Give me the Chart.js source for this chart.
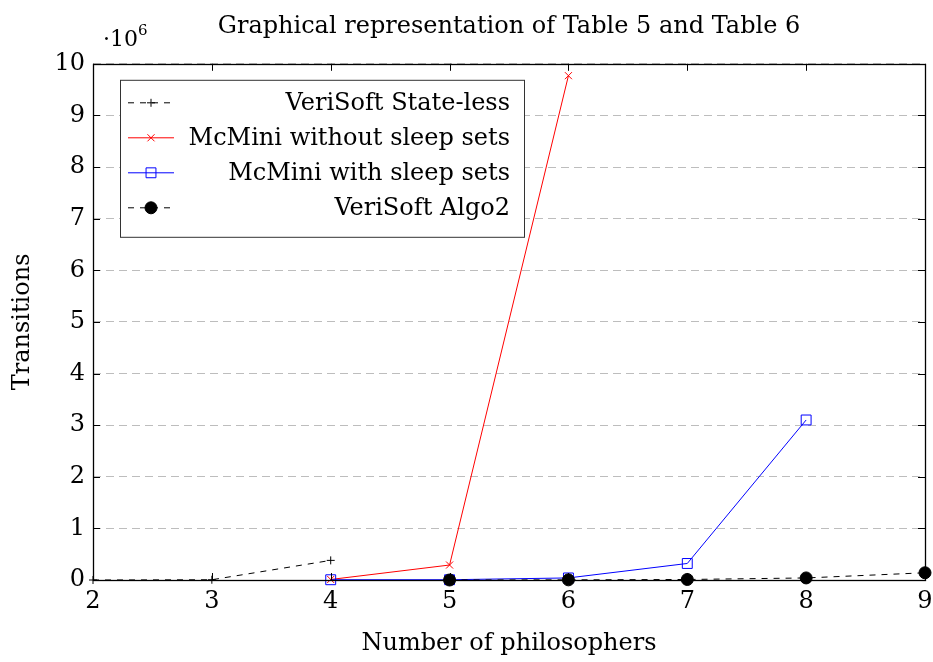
<!DOCTYPE html>
<html>
<head>
  <title>Table 5 and Table 6</title>
  <script src="https://cdn.jsdelivr.net/npm/chart.js"></script>
  <style>
    html, body { margin: 0; padding: 0; background: #fff; }
  </style>
</head>
<body>
  <canvas id="myChart" width="933" height="662"></canvas>
  <script>
// values in millions of transitions (axis shows x10^6)
var stateLessX = [2, 3, 4];
var stateLessY = [0.0, 0.005, 0.38];

var noSleepX = [4, 5, 6];
var noSleepY = [0.01, 0.29, 9.77];

var sleepX = [4, 5, 6, 7, 8];
var sleepY = [0.005, 0.005, 0.04, 0.32, 3.1];

var algo2X = [5, 6, 7, 8, 9];
var algo2Y = [0.0, 0.003, 0.01, 0.04, 0.14];

var seriesNames = ['VeriSoft State-less', 'McMini without sleep sets', 'McMini with sleep sets', 'VeriSoft Algo2'];
var xTicks = [2, 3, 4, 5, 6, 7, 8, 9];
var yTicks = [0, 1, 2, 3, 4, 5, 6, 7, 8, 9, 10];

var FONT = "'DejaVu Serif', serif";
var FS = 24;

function pts(xs, ys) {
  return xs.map(function (x, i) { return { x: x, y: ys[i] }; });
}

// frame + inward ticks like pgfplots
var framePlugin = {
  id: 'frame',
  afterDatasetsDraw: function (chart) {
    var ctx = chart.ctx, a = chart.chartArea;
    var sx = chart.scales.x, sy = chart.scales.y;
    ctx.save();
    ctx.strokeStyle = '#000';
    ctx.lineWidth = 1;
    ctx.beginPath();
    xTicks.forEach(function (v) {
      var px = Math.round(sx.getPixelForValue(v)) + 0.5;
      ctx.moveTo(px, a.bottom); ctx.lineTo(px, a.bottom - 7);
      ctx.moveTo(px, a.top); ctx.lineTo(px, a.top + 7);
    });
    yTicks.forEach(function (v) {
      var py = Math.round(sy.getPixelForValue(v)) + 0.5;
      ctx.moveTo(a.left, py); ctx.lineTo(a.left + 7, py);
      ctx.moveTo(a.right, py); ctx.lineTo(a.right - 7, py);
    });
    ctx.stroke();
    ctx.lineWidth = 1.3;
    ctx.strokeRect(Math.round(a.left) + 0.5, Math.round(a.top) + 0.5, Math.round(a.right - a.left), Math.round(a.bottom - a.top));
    // scale factor label
    ctx.fillStyle = '#000';
    ctx.font = '22px ' + FONT;
    ctx.textBaseline = 'alphabetic';
    ctx.textAlign = 'left';
    ctx.fillText('\u00b710', a.left + 10, 46);
    ctx.font = '15px ' + FONT;
    ctx.fillText('6', a.left + 45, 35);
    ctx.restore();
  }
};

// legend box inside the plot, text right aligned
var legendPlugin = {
  id: 'boxLegend',
  afterDraw: function (chart) {
    var ctx = chart.ctx, a = chart.chartArea;
    var bx = a.left + 27, by = a.top + 16, bw = 404, bh = 157;
    ctx.save();
    ctx.fillStyle = '#fff';
    ctx.fillRect(bx, by, bw, bh);
    ctx.strokeStyle = '#333';
    ctx.lineWidth = 1;
    ctx.strokeRect(bx + 0.5, by + 0.5, bw, bh);
    chart.data.datasets.forEach(function (ds, row) {
      var cy = by + 23 + row * 35;
      ctx.save();
      ctx.strokeStyle = ds.borderColor;
      ctx.lineWidth = 1;
      ctx.setLineDash(ds.borderDash || []);
      ctx.beginPath();
      ctx.moveTo(bx + 8, cy); ctx.lineTo(bx + 54, cy);
      ctx.stroke();
      ctx.restore();
      ctx.save();
      ctx.strokeStyle = ds.borderColor;
      ctx.fillStyle = ds.backgroundColor;
      ctx.lineWidth = 1;
      Chart.helpers.drawPoint(ctx, {
        pointStyle: ds.pointStyle,
        radius: ds.pointRadius,
        borderWidth: 1,
        rotation: 0
      }, bx + 31, cy);
      ctx.restore();
      ctx.fillStyle = '#000';
      ctx.font = FS + 'px ' + FONT;
      ctx.textAlign = 'right';
      ctx.textBaseline = 'middle';
      ctx.fillText(ds.label, bx + bw - 14, cy + 1);
    });
    ctx.restore();
  }
};

var ctx = document.getElementById('myChart').getContext('2d');

var myChart = new Chart(ctx, {
  type: 'line',
  data: {
    datasets: [{
      label: seriesNames[0],
      data: pts(stateLessX, stateLessY),
      borderColor: '#000',
      backgroundColor: '#000',
      borderWidth: 1,
      borderDash: [6, 6],
      pointStyle: 'cross',
      pointRadius: 4,
      pointBorderWidth: 1,
      order: 3
    }, {
      label: seriesNames[1],
      data: pts(noSleepX, noSleepY),
      borderColor: '#ff0000',
      backgroundColor: '#ff0000',
      borderWidth: 1,
      pointStyle: 'crossRot',
      pointRadius: 5,
      pointBorderWidth: 1,
      order: 2
    }, {
      label: seriesNames[2],
      data: pts(sleepX, sleepY),
      borderColor: '#0000ff',
      backgroundColor: 'rgba(255,255,255,0)',
      borderWidth: 1,
      pointStyle: 'rect',
      pointRadius: 7,
      pointBorderWidth: 1,
      order: 1
    }, {
      label: seriesNames[3],
      data: pts(algo2X, algo2Y),
      borderColor: '#000',
      backgroundColor: '#000',
      borderWidth: 1,
      borderDash: [6, 6],
      pointStyle: 'circle',
      pointRadius: 6,
      pointBorderWidth: 1,
      order: 0
    }]
  },
  options: {
    responsive: false,
    animation: false,
    clip: false,
    layout: { padding: { left: 0, right: 7, top: 0, bottom: 4 } },
    plugins: {
      legend: { display: false },
      tooltip: { enabled: false },
      title: {
        display: true,
        fullSize: false,
        text: 'Graphical representation of Table 5 and Table 6',
        color: '#000',
        font: { family: FONT, size: FS, weight: 'normal' },
        padding: { top: 12, bottom: 23 }
      }
    },
    scales: {
      x: {
        type: 'linear',
        min: 2,
        max: 9,
        afterBuildTicks: function (s) { s.ticks = xTicks.map(function (v) { return { value: v }; }); },
        ticks: { color: '#000', font: { family: FONT, size: FS }, padding: 7, maxRotation: 0 },
        grid: { display: false, drawTicks: false },
        border: { display: false },
        title: { display: true, text: 'Number of philosophers', color: '#000', font: { family: FONT, size: FS }, padding: { top: 8, bottom: 0 } },
        afterFit: function (s) { s.height = 78; s.paddingRight = 0; s.paddingLeft = 0; }
      },
      y: {
        min: 0,
        max: 10,
        afterBuildTicks: function (s) { s.ticks = yTicks.map(function (v) { return { value: v }; }); },
        ticks: { color: '#000', font: { family: FONT, size: FS }, padding: 8 },
        grid: { color: '#bdbdbd', lineWidth: 1, drawTicks: false },
        border: { display: false, dash: [8, 5] },
        title: { display: true, text: 'Transitions', color: '#000', font: { family: FONT, size: FS }, padding: { top: 8, bottom: 10 } },
        afterFit: function (s) { s.width = 93; s.paddingTop = 0; s.paddingBottom = 0; }
      }
    }
  },
  plugins: [framePlugin, legendPlugin]
});
  </script>
</body>
</html>
